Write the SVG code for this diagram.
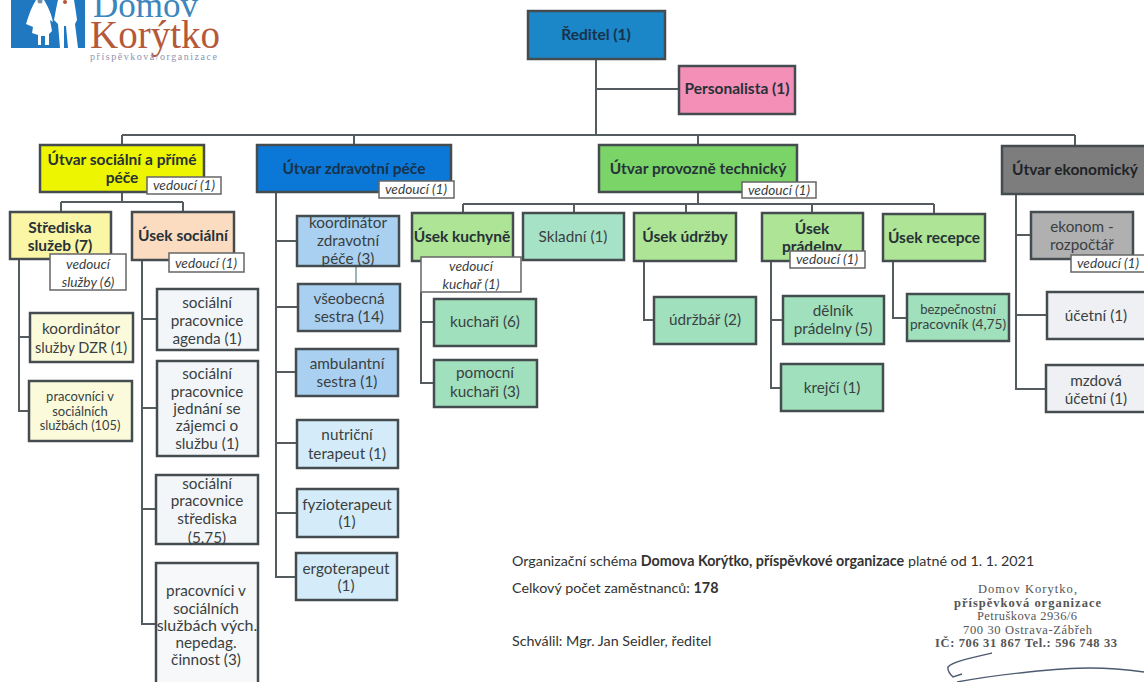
<svg xmlns="http://www.w3.org/2000/svg" width="1144" height="682" viewBox="0 0 1144 682">
<style>
text{font-family:Lato,"Liberation Sans",sans-serif;fill:#3a3f42;text-anchor:middle}
.n{stroke:#444c50;stroke-width:2.5}
.b{font-weight:700;fill:#263238;font-size:15.5px}
.h{font-weight:700;fill:#17324a;font-size:15.5px}
.t{font-size:15.3px}
.s{font-size:13px}
.v{fill:#fff;stroke:#666;stroke-width:1.5}
.vt{font-style:italic;font-size:13.7px}
.c{fill:none;stroke:#555c60;stroke-width:2}
.f{font-size:14.3px;text-anchor:start;fill:#333}
.st{font-family:"Liberation Serif",serif;fill:#555;font-size:12.5px;text-anchor:start}
.l{font-family:"Liberation Serif",serif;text-anchor:start}
</style>
<g id="logo">
<path d="M11 0H85V48H11Z" fill="#1f78c0"/>
<path d="M36 0C32 6 29 14 26 24L33 27 32 33 38 35 38 45H41V36H45V45H49V34L52 31 50 20 53 22C51 12 47 5 44 0Z" fill="#fff"/>
<path d="M58 0C56 8 55 16 54 20L58 24 60 48H64V26H66L68 48H78L75 24 77 20C76 12 75 6 74 0Z" fill="#fff"/>
<circle cx="40" cy="1" r="2.5" fill="#7a8fa8"/>
<circle cx="65" cy="2" r="2" fill="#b5533f"/>
<text class="l" x="93" y="17" style="font-size:35px;fill:#3d86bd">Domov</text>
<text class="l" x="90" y="48" style="font-size:39px;fill:#b5593a">Korýtko</text>
<text class="l" x="90" y="60" style="font-size:10px;fill:#8c93b0" textLength="127" lengthAdjust="spacing">příspěvková/organizace</text>
</g>
<g id="connectors" class="c">
<path d="M596 59V135M596 89H679M122 135H1075M122 135V145M354 135V145M698 135V145M1075 135V146"/>
<path d="M122 192V202M61 202H183M61 202V212M183 202V212"/>
<path d="M19 259V411H29M19 337H30"/>
<path d="M142 260V624H157M142 319H157M142 408H157M142 509H156"/>
<path d="M276 192V577H296M276 241H297M276 307H298M276 372H296M276 443H297M276 513H297"/>
<path d="M356 266V284" style="stroke:#9fb4b8"/>
<path d="M698 192V204M463 204H934M463 204V213M574 204V213M686 204V213M812 204V213M934 204V214"/>
<path d="M421 292V383H434M421 322H434"/>
<path d="M644 261V320H654"/>
<path d="M771 261V388H782M771 320H783"/>
<path d="M893 261V318H907"/>
<path d="M1016 194V389H1047M1016 235H1031M1016 315H1047"/>
</g>
<g id="reditel"><rect class="n" x="528" y="11" width="137" height="48" fill="#1b86c8"/><text class="h" x="596" y="40">Ředitel (1)</text></g>
<g id="personalista"><rect class="n" x="679" y="66" width="116" height="48" fill="#f48fb8"/><text class="b" x="737" y="94">Personalista (1)</text></g>

<g id="utvar-socialni"><rect class="n" x="40" y="145" width="164" height="47" fill="#eef500"/><text class="b" x="122" y="165">Útvar sociální a přímé</text><text class="b" x="122" y="183">péče</text><rect class="v" x="147" y="177" width="74" height="17"/><text class="vt" x="184" y="190">vedoucí (1)</text></g>
<g id="strediska"><rect class="n" x="10" y="212" width="101" height="47" fill="#fbf5a6"/><text class="b" x="60" y="233">Střediska</text><text class="b" x="60" y="251">služeb (7)</text><rect class="v" x="50" y="254" width="76" height="36"/><text class="vt" x="88" y="269">vedoucí</text><text class="vt" x="88" y="287">služby (6)</text></g>
<g id="usek-socialni"><rect class="n" x="132" y="212" width="102" height="48" fill="#fbdcc0"/><text class="b" x="183" y="241">Úsek sociální</text><rect class="v" x="169" y="253" width="75" height="19"/><text class="vt" x="206" y="268">vedoucí (1)</text></g>
<g id="koordinator-dzr"><rect class="n" x="30" y="313" width="103" height="49" fill="#fbfbdc"/><text class="t" x="81" y="334">koordinátor</text><text class="t" x="81" y="353" style="font-size:14.6px">služby DZR (1)</text></g>
<g id="pracovnici-ss"><rect class="n" x="29" y="381" width="103" height="60" fill="#fbfbdc"/><text class="s" x="80" y="401">pracovníci v</text><text class="s" x="80" y="416">sociálních</text><text class="s" x="80" y="430" style="font-size:12.8px">službách (105)</text></g>
<g id="soc-agenda"><rect class="n" x="157" y="289" width="101" height="61" fill="#f3f6f8"/><text class="t" x="207" y="308">sociální</text><text class="t" x="207" y="326">pracovnice</text><text class="t" x="207" y="344">agenda (1)</text></g>
<g id="soc-jednani"><rect class="n" x="157" y="361" width="101" height="95" fill="#f3f6f8"/><text class="t" x="207" y="379">sociální</text><text class="t" x="207" y="397">pracovnice</text><text class="t" x="207" y="414">jednání se</text><text class="t" x="207" y="431">zájemci o</text><text class="t" x="207" y="449">službu (1)</text></g>
<g id="soc-strediska"><rect class="n" x="156" y="475" width="102" height="69" fill="#f3f6f8"/><text class="t" x="207" y="489">sociální</text><text class="t" x="207" y="506">pracovnice</text><text class="t" x="207" y="524">střediska</text><text class="t" x="207" y="543">(5,75)</text></g>
<g id="pracovnici-vych"><rect class="n" x="156" y="563" width="102" height="125" fill="#f6f8f9"/><text class="t" x="206" y="596">pracovníci v</text><text class="t" x="206" y="614">sociálních</text><text class="t" x="207" y="631" style="font-size:16px">službách vých.</text><text class="t" x="206" y="648">nepedag.</text><text class="t" x="206" y="665">činnost (3)</text></g>

<g id="utvar-zdravotni"><rect class="n" x="257" y="145" width="194" height="47" fill="#0b78d8"/><text class="h" x="354" y="174">Útvar zdravotní péče</text><rect class="v" x="379" y="181" width="75" height="17"/><text class="vt" x="416" y="194">vedoucí (1)</text></g>
<g id="koordinator-zdr"><rect class="n" x="297" y="216" width="102" height="50" fill="#a9d0f0"/><text class="t" x="348" y="228">koordinátor</text><text class="t" x="348" y="246">zdravotní</text><text class="t" x="348" y="264">péče (3)</text></g>
<g id="vseobecna"><rect class="n" x="298" y="284" width="102" height="47" fill="#a9d0f0"/><text class="t" x="349" y="304">všeobecná</text><text class="t" x="349" y="322">sestra (14)</text></g>
<g id="ambulantni"><rect class="n" x="296" y="349" width="102" height="47" fill="#a9d0f0"/><text class="t" x="347" y="369">ambulantní</text><text class="t" x="347" y="387">sestra (1)</text></g>
<g id="nutricni"><rect class="n" x="297" y="420" width="101" height="48" fill="#d4ecf9"/><text class="t" x="347" y="440">nutriční</text><text class="t" x="347" y="459">terapeut (1)</text></g>
<g id="fyzio"><rect class="n" x="297" y="489" width="101" height="48" fill="#d4ecf9"/><text class="t" x="347" y="510">fyzioterapeut</text><text class="t" x="347" y="527">(1)</text></g>
<g id="ergo"><rect class="n" x="296" y="553" width="101" height="47" fill="#d4ecf9"/><text class="t" x="346" y="574">ergoterapeut</text><text class="t" x="346" y="591">(1)</text></g>

<g id="utvar-provozne"><rect class="n" x="599" y="145" width="198" height="47" fill="#7bd468"/><text class="b" x="698" y="174">Útvar provozně technický</text><rect class="v" x="742" y="182" width="74" height="16"/><text class="vt" x="779" y="195">vedoucí (1)</text></g>
<g id="usek-kuchyne"><rect class="n" x="412" y="213" width="101" height="48" fill="#aee495"/><text class="b" x="462" y="242">Úsek kuchyně</text><rect class="v" x="421" y="257" width="100" height="35"/><text class="vt" x="471" y="271">vedoucí</text><text class="vt" x="471" y="289">kuchař (1)</text></g>
<g id="kuchari"><rect class="n" x="434" y="299" width="102" height="47" fill="#a0e0bc"/><text class="t" x="485" y="327">kuchaři (6)</text></g>
<g id="pomocni"><rect class="n" x="434" y="360" width="103" height="47" fill="#a0e0bc"/><text class="t" x="485" y="378">pomocní</text><text class="t" x="485" y="397">kuchaři (3)</text></g>
<g id="skladni"><rect class="n" x="523" y="213" width="101" height="47" fill="#a6e2c6"/><text class="t" x="573" y="242">Skladní (1)</text></g>
<g id="usek-udrzby"><rect class="n" x="634" y="213" width="102" height="48" fill="#aee495"/><text class="b" x="685" y="242">Úsek údržby</text></g>
<g id="udrzbar"><rect class="n" x="654" y="297" width="102" height="47" fill="#a0e0bc"/><text class="t" x="705" y="325">údržbář (2)</text></g>
<g id="usek-pradelny"><rect class="n" x="762" y="213" width="101" height="48" fill="#aee495"/><text class="b" x="812" y="234">Úsek</text><text class="b" x="812" y="252">prádelny</text><rect class="v" x="790" y="251" width="75" height="17"/><text class="vt" x="827" y="264">vedoucí (1)</text></g>
<g id="delnik"><rect class="n" x="783" y="296" width="101" height="48" fill="#a0e0bc"/><text class="t" x="833" y="316">dělník</text><text class="t" x="833" y="334">prádelny (5)</text></g>
<g id="krejci"><rect class="n" x="781" y="364" width="102" height="47" fill="#a0e0bc"/><text class="t" x="832" y="393">krejčí (1)</text></g>
<g id="usek-recepce"><rect class="n" x="883" y="214" width="102" height="47" fill="#aee495"/><text class="b" x="934" y="243">Úsek recepce</text></g>
<g id="bezpecnostni"><rect class="n" x="907" y="294" width="102" height="47" fill="#a0e0bc"/><text class="s" x="958" y="314">bezpečnostní</text><text class="s" x="958" y="329" style="font-size:13.7px">pracovník (4,75)</text></g>

<g id="utvar-ekonomicky"><rect class="n" x="1002" y="146" width="150" height="48" fill="#7d7d7d"/><text class="b" x="1075" y="175" style="fill:#1d2327">Útvar ekonomický</text></g>
<g id="ekonom"><rect class="n" x="1031" y="212" width="102" height="47" fill="#b0b0b0"/><text class="t" x="1082" y="232">ekonom -</text><text class="t" x="1082" y="250">rozpočtář</text><rect class="v" x="1071" y="255" width="75" height="17"/><text class="vt" x="1108" y="268">vedoucí (1)</text></g>
<g id="ucetni"><rect class="n" x="1047" y="292" width="103" height="47" fill="#eef0f3"/><text class="t" x="1096" y="321">účetní (1)</text></g>
<g id="mzdova"><rect class="n" x="1046" y="365" width="104" height="47" fill="#eef0f3"/><text class="t" x="1096" y="386">mzdová</text><text class="t" x="1096" y="404">účetní (1)</text></g>

<g id="footer">
<text class="f" x="512" y="566">Organizační schéma <tspan font-weight="700">Domova Korýtko, příspěvkové organizace</tspan> platné od 1. 1. 2021</text>
<text class="f" x="512" y="593">Celkový počet zaměstnanců: <tspan font-weight="700">178</tspan></text>
<text class="f" x="512" y="646">Schválil: Mgr. Jan Seidler, ředitel</text>
<text class="st" x="978" y="593" textLength="99" lengthAdjust="spacing">Domov Korytko,</text>
<text class="st" x="954" y="607" textLength="147" lengthAdjust="spacing" font-weight="700">příspěvková organizace</text>
<text class="st" x="977" y="620" textLength="100" lengthAdjust="spacing">Petruškova 2936/6</text>
<text class="st" x="963" y="634" textLength="129" lengthAdjust="spacing">700 30  Ostrava-Zábřeh</text>
<text class="st" x="935" y="647" textLength="182" lengthAdjust="spacing" font-weight="700">IČ: 706 31 867  Tel.: 596 748 33</text>
<path d="M992 653C970 658 952 662 948 667C947 671 951 675 953 677L962 674M957 682C1000 674 1060 668 1090 668C1110 668 1130 670 1144 672" fill="none" stroke="#4d5a70" stroke-width="1.4"/>
</g>
</svg>
